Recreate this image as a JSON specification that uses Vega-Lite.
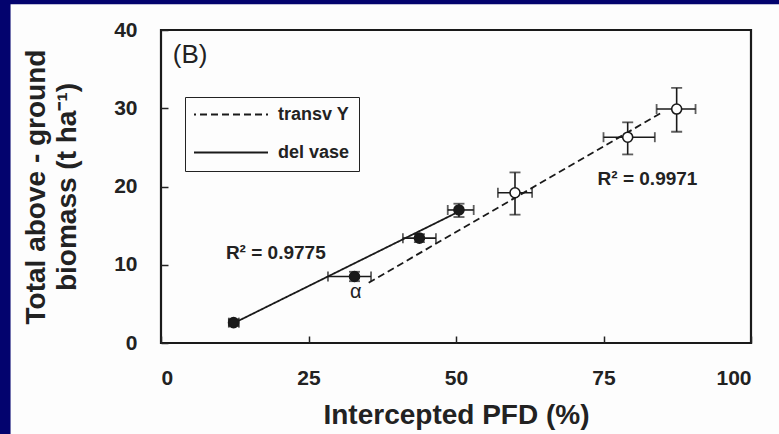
{
  "$schema": "https://vega.github.io/schema/vega-lite/v6.json",
  "width": 590,
  "height": 313,
  "autosize": {"type": "none"},
  "padding": {"left": 161, "top": 30, "right": 28, "bottom": 91},
  "background": "#03036e",
  "config": {"view": {"stroke": null}, "font": "Liberation Sans"},
  "datasets": {
    "one": [{"panel": "B"}],
    "points": [
      {"series": "del vase", "x": 12.3, "y": 2.6, "xlo": 11.5, "xhi": 13.2, "ylo": 2.2, "yhi": 3.0},
      {"series": "del vase", "x": 32.8, "y": 8.5, "xlo": 28.3, "xhi": 35.6, "ylo": 7.9, "yhi": 9.1},
      {"series": "del vase", "x": 43.8, "y": 13.4, "xlo": 41.0, "xhi": 46.6, "ylo": 12.9, "yhi": 13.9},
      {"series": "del vase", "x": 50.5, "y": 17.0, "xlo": 48.6, "xhi": 53.0, "ylo": 16.1, "yhi": 17.8},
      {"series": "transv Y", "x": 60.0, "y": 19.2, "xlo": 57.1, "xhi": 62.9, "ylo": 16.4, "yhi": 21.8},
      {"series": "transv Y", "x": 79.1, "y": 26.3, "xlo": 75.0, "xhi": 83.7, "ylo": 24.1, "yhi": 28.2},
      {"series": "transv Y", "x": 87.4, "y": 29.9, "xlo": 84.0, "xhi": 90.6, "ylo": 27.0, "yhi": 32.6}
    ],
    "fits": [
      {"series": "del vase", "x": 12.5, "y": 2.6},
      {"series": "del vase", "x": 50.5, "y": 16.8},
      {"series": "transv Y", "x": 35.2, "y": 7.7},
      {"series": "transv Y", "x": 85.0, "y": 29.5}
    ],
    "labels": [
      {"kind": "panel", "x": 2, "y": 36.8, "text": "(B)"},
      {"kind": "r2", "x": 11, "y": 11.5, "text": "R² = 0.9775"},
      {"kind": "r2", "x": 74, "y": 20.9, "text": "R² = 0.9971"},
      {"kind": "alpha", "x": 33, "y": 6.5, "text": "α"}
    ]
  },
  "layer": [
    {
      "data": {"name": "one"},
      "mark": {"type": "rect", "fill": "#fdfdfd", "clip": false},
      "encoding": {
        "x": {
          "datum": -25.5, "type": "quantitative",
          "scale": {"domain": [0, 100], "nice": false, "zero": false},
          "axis": {
            "values": [0, 25, 50, 75, 100],
            "tickSize": -7, "tickWidth": 1.5, "tickColor": "#222",
            "domain": false, "grid": false,
            "labelFontSize": 21, "labelFontWeight": "bold", "labelColor": "#222",
            "labelPadding": 31,
            "title": "Intercepted PFD (%)",
            "titleFontSize": 28, "titleFontWeight": "bold", "titleColor": "#222",
            "titlePadding": 13, "zindex": 1
          }
        },
        "x2": {"datum": 110},
        "y": {
          "datum": 43.3, "type": "quantitative",
          "scale": {"domain": [0, 40], "nice": false, "zero": false},
          "axis": {
            "values": [0, 10, 20, 30, 40],
            "tickSize": -7, "tickWidth": 1.5, "tickColor": "#222",
            "domain": false, "grid": false,
            "labelFontSize": 21, "labelFontWeight": "bold", "labelColor": "#222",
            "labelPadding": 31,
            "title": ["Total above - ground", "biomass (t ha⁻¹)"],
            "titleFontSize": 28, "titleFontWeight": "bold", "titleColor": "#222",
            "titleLineHeight": 31, "titlePadding": 32, "zindex": 1
          }
        },
        "y2": {"datum": -15}
      }
    },
    {
      "data": {"name": "fits"},
      "mark": {"type": "line", "color": "#1a1a1a", "strokeWidth": 1.8},
      "encoding": {
        "x": {"field": "x", "type": "quantitative"},
        "y": {"field": "y", "type": "quantitative"},
        "detail": {"field": "series"},
        "strokeDash": {
          "field": "series", "type": "nominal",
          "scale": {"domain": ["transv Y", "del vase"], "range": [[7, 4], [1, 0]]},
          "legend": {
            "orient": "none", "legendX": 24, "legendY": 67,
            "title": null, "symbolType": "stroke", "symbolSize": 6241,
            "symbolStrokeWidth": 1.8, "symbolStrokeColor": "#1a1a1a",
            "clipHeight": 17, "rowPadding": 19, "padding": 9,
            "symbolOffset": -6, "labelOffset": 9,
            "labelFontSize": 18, "labelFontWeight": "bold", "labelColor": "#222",
            "strokeColor": "#222", "fillColor": "#fdfdfd"
          }
        }
      }
    },
    {
      "data": {"name": "points"},
      "mark": {"type": "rule", "color": "#1a1a1a", "strokeWidth": 1.6},
      "encoding": {
        "x": {"field": "xlo", "type": "quantitative"},
        "x2": {"field": "xhi"},
        "y": {"field": "y", "type": "quantitative"}
      }
    },
    {
      "data": {"name": "points"},
      "mark": {"type": "rule", "color": "#1a1a1a", "strokeWidth": 1.6},
      "encoding": {
        "x": {"field": "x", "type": "quantitative"},
        "y": {"field": "ylo", "type": "quantitative"},
        "y2": {"field": "yhi"}
      }
    },
    {
      "data": {"name": "points"},
      "mark": {"type": "tick", "orient": "vertical", "color": "#1a1a1a", "size": 10, "thickness": 1.8},
      "encoding": {
        "x": {"field": "xlo", "type": "quantitative"},
        "y": {"field": "y", "type": "quantitative"}
      }
    },
    {
      "data": {"name": "points"},
      "mark": {"type": "tick", "orient": "vertical", "color": "#1a1a1a", "size": 10, "thickness": 1.8},
      "encoding": {
        "x": {"field": "xhi", "type": "quantitative"},
        "y": {"field": "y", "type": "quantitative"}
      }
    },
    {
      "data": {"name": "points"},
      "mark": {"type": "tick", "orient": "horizontal", "color": "#1a1a1a", "size": 11, "thickness": 1.8},
      "encoding": {
        "x": {"field": "x", "type": "quantitative"},
        "y": {"field": "ylo", "type": "quantitative"}
      }
    },
    {
      "data": {"name": "points"},
      "mark": {"type": "tick", "orient": "horizontal", "color": "#1a1a1a", "size": 11, "thickness": 1.8},
      "encoding": {
        "x": {"field": "x", "type": "quantitative"},
        "y": {"field": "yhi", "type": "quantitative"}
      }
    },
    {
      "data": {"name": "points"},
      "mark": {"type": "point", "shape": "circle", "filled": true, "size": 100, "stroke": "#1a1a1a", "strokeWidth": 1.6, "opacity": 1},
      "encoding": {
        "x": {"field": "x", "type": "quantitative"},
        "y": {"field": "y", "type": "quantitative"},
        "fill": {
          "field": "series", "type": "nominal",
          "scale": {"domain": ["del vase", "transv Y"], "range": ["#1a1a1a", "#ffffff"]},
          "legend": null
        }
      }
    },
    {
      "data": {"name": "labels"},
      "transform": [{"filter": "datum.kind === 'panel'"}],
      "mark": {"type": "text", "align": "left", "baseline": "middle", "fontSize": 26, "color": "#222"},
      "encoding": {
        "x": {"field": "x", "type": "quantitative"},
        "y": {"field": "y", "type": "quantitative"},
        "text": {"field": "text"}
      }
    },
    {
      "data": {"name": "labels"},
      "transform": [{"filter": "datum.kind === 'r2'"}],
      "mark": {"type": "text", "align": "left", "baseline": "middle", "fontSize": 19, "fontWeight": "bold", "color": "#222"},
      "encoding": {
        "x": {"field": "x", "type": "quantitative"},
        "y": {"field": "y", "type": "quantitative"},
        "text": {"field": "text"}
      }
    },
    {
      "data": {"name": "labels"},
      "transform": [{"filter": "datum.kind === 'alpha'"}],
      "mark": {"type": "text", "align": "center", "baseline": "middle", "fontSize": 20, "color": "#222"},
      "encoding": {
        "x": {"field": "x", "type": "quantitative"},
        "y": {"field": "y", "type": "quantitative"},
        "text": {"field": "text"}
      }
    },
    {
      "data": {"name": "one"},
      "mark": {"type": "rect", "fill": null, "fillOpacity": 0, "stroke": "#1a1a1a", "strokeWidth": 2.2, "clip": false},
      "encoding": {
        "x": {"datum": 0, "type": "quantitative"},
        "x2": {"datum": 100},
        "y": {"datum": 0, "type": "quantitative"},
        "y2": {"datum": 40}
      }
    }
  ]
}
